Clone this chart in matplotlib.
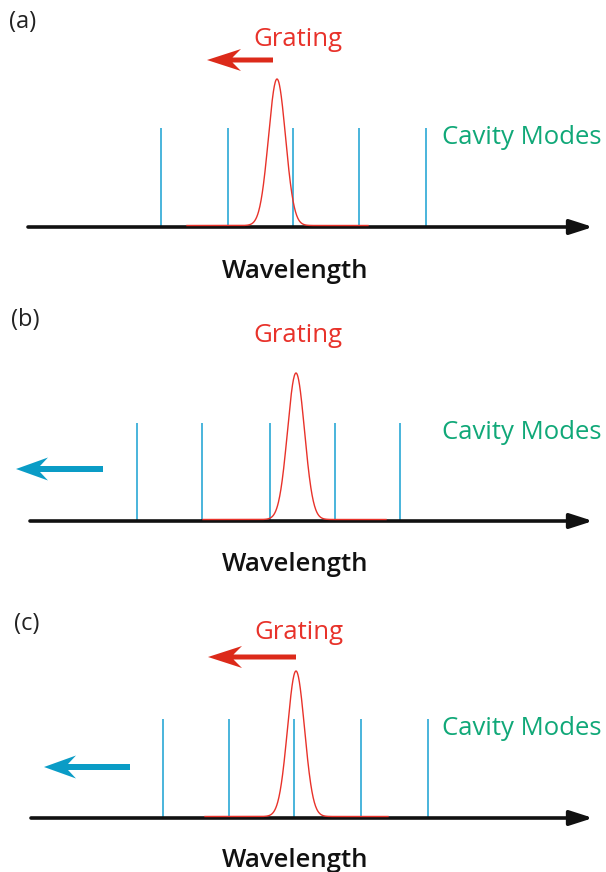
import numpy as np
import matplotlib.pyplot as plt
from matplotlib.patches import FancyArrow

# schematic data, in picture pixels (y downwards)
panel_labels = ['(a)', '(b)', '(c)']
baselines = [227, 521, 818]
axis_start = [28, 30, 31]
axis_end = [593, 593, 593]

# cavity mode positions for each panel
modes_a = [161, 227.5, 292.5, 359, 425.5]
modes_b = [137, 202, 270, 335, 399.5]
modes_c = [162.5, 229, 294, 361, 427.5]
mode_tops = [128, 423, 719]

# grating reflection peak: centre, top, sigma, drawn range
peak_centres = [277, 296, 296]
peak_tops = [79, 373, 671]
peak_sigma = 8.5
peak_ranges = [(187, 368), (203, 386), (205, 388)]

# text positions
grating_pos = [(298, 40), (298, 335), (299, 632)]
modes_text_pos = [(442, 138), (442, 432), (442, 728)]
wavelength_pos = [(295, 271), (295, 564), (295, 860)]
label_pos = [(9, 22), (11, 320), (14, 624)]

# shift arrows: (x_from, x_to, y) or None
red_arrows = [(273, 207, 60), None, (296, 208, 657)]
blue_arrows = [None, (103, 16, 469), (130, 44, 767)]

red = '#e8322a'
red_arrow_col = '#dc2a1a'
blue_mode = '#2aa8d6'
blue_arrow_col = '#0a9cc6'
green = '#10a878'

plt.rcParams['font.family'] = ['Open Sans', 'DejaVu Sans']

fig = plt.figure(figsize=(6.06, 8.72), dpi=100)
ax = fig.add_axes([0, 0, 1, 1])
ax.set_xlim(0, 606)
ax.set_ylim(872, 0)
ax.axis('off')

all_modes = [modes_a, modes_b, modes_c]
for i in range(3):
    base = baselines[i]
    # horizontal axis with arrow
    ax.annotate('', xy=(axis_end[i], base), xytext=(axis_start[i], base),
                arrowprops=dict(arrowstyle='-|>,head_length=1.4,head_width=0.45',
                                lw=2.6, color='#111111', shrinkA=0, shrinkB=0),
                zorder=3)
    # cavity modes
    for m in all_modes[i]:
        ax.plot([m, m], [base, mode_tops[i]], color=blue_mode, lw=1.2,
                solid_capstyle='butt', zorder=2)
    # grating peak
    x = np.linspace(peak_ranges[i][0], peak_ranges[i][1], 600)
    amp = base - peak_tops[i]
    y = base - 1.5 - (amp - 1.5) * np.exp(-(x - peak_centres[i]) ** 2 / (2 * peak_sigma ** 2))
    ax.plot(x, y, color=red, lw=1.0, zorder=4)

    ax.text(*grating_pos[i], 'Grating', color=red, fontsize=18.5,
            ha='center', va='center')
    ax.text(*modes_text_pos[i], 'Cavity Modes', color=green, fontsize=18.5,
            ha='left', va='center')
    ax.text(*wavelength_pos[i], 'Wavelength', color='#111111', fontsize=18.5,
            fontweight='semibold', ha='center', va='center')
    ax.text(*label_pos[i], panel_labels[i], color='#222222', fontsize=17,
            ha='left', va='center')

    if red_arrows[i] is not None:
        x0, x1, ya = red_arrows[i]
        ax.add_patch(FancyArrow(x0, ya, x1 - x0, 0, width=5, head_width=22,
                                head_length=34, overhang=0.25,
                                length_includes_head=True,
                                color=red_arrow_col, lw=0))
    if blue_arrows[i] is not None:
        x0, x1, ya = blue_arrows[i]
        ax.add_patch(FancyArrow(x0, ya, x1 - x0, 0, width=6, head_width=23,
                                head_length=32, overhang=0.25,
                                length_includes_head=True,
                                color=blue_arrow_col, lw=0))

fig.savefig('out.png', dpi=100)
